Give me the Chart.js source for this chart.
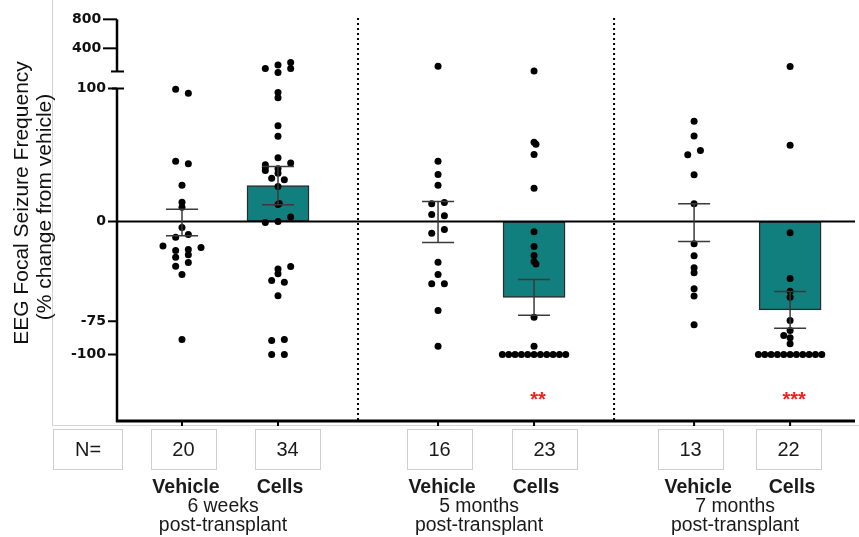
<!DOCTYPE html>
<html>
<head>
<meta charset="utf-8">
<script src="https://cdn.jsdelivr.net/npm/chart.js@4.4.1/dist/chart.umd.min.js"></script>
<style>
  html, body { margin: 0; padding: 0; background: #fff; }
  #wrap { width: 859px; height: 537px; }
</style>
</head>
<body>
<div id="wrap"><canvas id="chart" width="859" height="537"></canvas></div>
<script>
// groups, left to right
const treatments = ['Vehicle', 'Cells', 'Vehicle', 'Cells', 'Vehicle', 'Cells'];
const timepoints = ['6 weeks', '5 months', '7 months'];
const nCounts = [20, 34, 16, 23, 13, 22];
const means = [-0.8, 27, -0.4, -57, -0.9, -66.4];
const sems = [10, 14.4, 15.4, 13.4, 14.2, 13.8];
const stars = ['', '', '', '**', '', '***'];
const yTickLabels = [-100, -75, 0, 100, 400, 800];

// single animals, % change from vehicle
const vehicle6w = [99.5, 96.5, 45.3, 43.4, 27.3, 14.5, 10.8, -4.5, -11.8, -9.8,
  -18.5, -19.5, -21.8, -21, -26.8, -25, -33.6, -30.8, -39.8, -88.7];
const cells6w = [247, 268, 225, 285, 247, 97, 93, 72, 64, 48, 42.6, 40.8, 44, 38.3,
  39.6, 36.3, 32.6, 31.3, 26.3, 12.8, 13.5, 3.3, -0.8, 0, -35.8, -33.8, -39.3,
  -44.4, -45.6, -55.9, -89.5, -88.7, -100, -100];
const vehicle5m = [260, 45.3, 35.3, 27.3, 13.3, 14.3, 5.3, 4.3, -8.8, -6, -30.6,
  -39.8, -46.8, -46.8, -66.9, -93.8];
const cells5m = [232, 59.5, 58, 50.4, 25, -7.8, -18.8, -25.6, -30, -32, -72, -93.8,
  -100, -100, -100, -100, -100, -100, -100, -100, -100, -100, -100];
const vehicle7m = [75.4, 64.2, 50.1, 53.4, 35.1, 13.3, -16.8, -25.8, -34.8, -38.6,
  -50.6, -56.1, -77.7];
const cells7m = [259, 57.4, -8.5, -42.9, -52.4, -56.9, -74.4, -82, -85.7, -87.4, -92,
  -100, -100, -100, -100, -100, -100, -100, -100, -100, -100, -100];
const groupPoints = [vehicle6w, cells6w, vehicle5m, cells5m, vehicle7m, cells7m];

// horizontal scatter slots (how GraphPad spread the dots)
const jitter = [
  [-1, 1, -1, 1, 0, 0, 0, 0, -1, 1, -3, 3, -1, 1, -1, 1, -1, 1, 0, 0],
  [-2, 0, 0, 2, 2, 0, 0, 0, 0, 0, -2, -2, 2, -2, 0, 0, -1, 1, 0, 0, 0.2, 2, -2, 0,
    0, 2, 0, -1, 1, 0, -1, 1, -1, 1],
  [0, 0, 0, 0, -1, 1, -1, 1, -1, 1, 0, 0, -1, 1, 0, 0],
  [0, 0, 0.3, 0, 0, 0, 0, 0, 0, 0.3, 0, 0, -5, -4, -3, -2, -1, 0, 1, 2, 3, 4, 5],
  [0, 0, -1, 1, 0, 0, 0, 0, 0, 0, 0, 0, 0],
  [0, 0, 0, 0, 0, 0, 0, 0, -1, 0, 0, -5, -4, -3, -2, -1, 0, 1, 2, 3, 4, 5]
];

const TEAL = '#107f7e';
const SLOT = 0.066;           // one jitter slot, in x units
const GROUP_STEP = 2.667;     // distance between time points, in x units
const CAP_VALUE = 230;        // lowest value of the upper (broken) segment
const CAP_T = 112.8;          // where that segment starts on the axis
const DECADE_T = 72.4;        // axis units per decade in the upper segment
const boxShift = [1.5, 9.5, 1.5, 10.5, -3.5, -1.5];

function centerOf(i) {
  return Math.floor(i / 2) * GROUP_STEP + (i % 2);
}
// split axis: linear up to 100, log-compressed above the break
function toAxis(v) {
  return v <= 100 ? v : CAP_T + Math.log10(v / CAP_VALUE) * DECADE_T;
}

const scatterSets = groupPoints.map((vals, i) => ({
  type: 'scatter',
  order: 1,
  data: vals.map((v, k) => ({ x: centerOf(i) + jitter[i][k] * SLOT, y: toAxis(v) })),
  pointRadius: 3.5,
  pointBackgroundColor: '#000',
  pointBorderWidth: 0
}));

const barSet = {
  type: 'bar',
  order: 2,
  data: means.map((m, i) => ({ x: centerOf(i), y: m })),
  backgroundColor: treatments.map(t => t === 'Cells' ? TEAL : 'rgba(0,0,0,0)'),
  borderColor: treatments.map(t => t === 'Cells' ? '#2b2b2b' : 'rgba(0,0,0,0)'),
  borderWidth: 1.5,
  borderSkipped: false,
  barThickness: 62
};

function line(ctx, x1, y1, x2, y2) {
  ctx.beginPath();
  ctx.moveTo(x1, y1);
  ctx.lineTo(x2, y2);
  ctx.stroke();
}
function squeezed(ctx, text, x, y, font, sx) {
  ctx.save();
  ctx.translate(x, y);
  ctx.scale(sx, 1);
  ctx.font = font;
  ctx.textAlign = 'center';
  ctx.textBaseline = 'alphabetic';
  ctx.fillText(text, 0, 0);
  ctx.restore();
}

const decor = {
  id: 'decor',
  beforeDraw(chart) {
    const ctx = chart.ctx;
    ctx.save();
    ctx.strokeStyle = '#d4d4d4';
    ctx.lineWidth = 1;
    line(ctx, 52.5, 0, 52.5, 425.5);
    line(ctx, 52, 425.5, 859, 425.5);
    ctx.restore();
  },
  afterDatasetsDraw(chart) {
    const { ctx, chartArea: ca, scales: { x, y } } = chart;
    const left = ca.left;
    ctx.save();
    ctx.strokeStyle = '#000';
    ctx.fillStyle = '#000';

    // zero line
    ctx.lineWidth = 2;
    line(ctx, left, y.getPixelForValue(0), ca.right, y.getPixelForValue(0));

    // dotted dividers between time points
    ctx.setLineDash([2, 3]);
    ctx.lineWidth = 2;
    for (let g = 0; g < 2; g++) {
      const px = x.getPixelForValue((centerOf(g * 2 + 1) + centerOf(g * 2 + 2)) / 2);
      line(ctx, px, ca.top, px, ca.bottom);
    }
    ctx.setLineDash([]);

    // mean +/- SEM
    ctx.strokeStyle = '#3a3a3a';
    ctx.lineWidth = 1.5;
    means.forEach((m, i) => {
      const cx = x.getPixelForValue(centerOf(i));
      const hi = y.getPixelForValue(m + sems[i]);
      const lo = y.getPixelForValue(m - sems[i]);
      line(ctx, cx, hi, cx, lo);
      line(ctx, cx - 16, hi, cx + 16, hi);
      line(ctx, cx - 16, lo, cx + 16, lo);
    });

    // broken y axis
    ctx.strokeStyle = '#000';
    ctx.lineWidth = 2.5;
    const y100 = y.getPixelForValue(100);
    line(ctx, left, y100, left, ca.bottom + 1);
    const yTop = y.getPixelForValue(toAxis(800));
    const yCap = y.getPixelForValue(CAP_T);
    line(ctx, left, yTop, left, yCap);
    ctx.lineWidth = 2;
    line(ctx, left - 6, yCap, left + 7, yCap);
    line(ctx, left - 5, y100, left + 7, y100);
    yTickLabels.forEach(v => {
      const py = y.getPixelForValue(toAxis(v));
      line(ctx, left - (v > 100 ? 14 : 9), py, left, py);
    });

    // bottom axis
    ctx.lineWidth = 3;
    line(ctx, left - 1, ca.bottom, ca.right, ca.bottom);
    ctx.lineWidth = 2;
    means.forEach((m, i) => {
      const cx = x.getPixelForValue(centerOf(i));
      line(ctx, cx, ca.bottom, cx, ca.bottom + 5);
    });

    // significance
    ctx.fillStyle = '#ff1a1a';
    ctx.font = 'bold 20px "Liberation Sans", Arial, sans-serif';
    ctx.textAlign = 'center';
    stars.forEach((s, i) => {
      if (s) ctx.fillText(s, x.getPixelForValue(centerOf(i)) + 4, 406);
    });

    // N= boxes
    ctx.strokeStyle = '#cfcfcf';
    ctx.lineWidth = 1;
    ctx.fillStyle = '#1a1a1a';
    ctx.font = '20px "Liberation Sans", Arial, sans-serif';
    ctx.textBaseline = 'middle';
    ctx.strokeRect(53.5, 429.5, 69, 40);
    ctx.fillText('N=', 88, 450);
    nCounts.forEach((n, i) => {
      const cx = x.getPixelForValue(centerOf(i)) + boxShift[i];
      ctx.strokeRect(Math.round(cx - 32.5) + 0.5, 429.5, 65, 40);
      ctx.fillText(String(n), cx, 450);
    });

    // group labels
    treatments.forEach((t, i) => {
      squeezed(ctx, t, x.getPixelForValue(centerOf(i)) + (i % 2 ? 2 : 4), 493,
        'bold 21px "Liberation Sans", Arial, sans-serif', 0.93);
    });
    timepoints.forEach((t, g) => {
      const cx = x.getPixelForValue((centerOf(g * 2) + centerOf(g * 2 + 1)) / 2) - 7;
      squeezed(ctx, t, cx, 512, '20px "Liberation Sans", Arial, sans-serif', 0.97);
      squeezed(ctx, 'post-transplant', cx, 531, '20px "Liberation Sans", Arial, sans-serif', 0.97);
    });

    // y title
    ctx.save();
    ctx.translate(22, 203);
    ctx.rotate(-Math.PI / 2);
    ctx.font = '21px "Liberation Sans", Arial, sans-serif';
    ctx.fillStyle = '#111';
    ctx.textAlign = 'center';
    ctx.textBaseline = 'middle';
    ctx.fillText('EEG Focal Seizure Frequency', 0, 0);
    ctx.fillText('(% change from vehicle)', -4, 23);
    ctx.restore();

    ctx.restore();
  }
};

new Chart(document.getElementById('chart'), {
  type: 'bar',
  data: { datasets: [barSet, ...scatterSets] },
  options: {
    responsive: false,
    devicePixelRatio: 1,
    animation: false,
    layout: { padding: { left: 0, top: 18, right: 4, bottom: 116 } },
    plugins: { legend: { display: false }, tooltip: { enabled: false } },
    scales: {
      x: {
        type: 'linear',
        display: false,
        min: -0.677,
        max: 7.01,
        offset: false
      },
      y: {
        min: -150,
        max: 153,
        afterFit: s => { s.width = 117; },
        afterBuildTicks: s => { s.ticks = yTickLabels.map(v => ({ value: toAxis(v) })); },
        border: { display: false },
        grid: { display: false, drawTicks: true, tickLength: 9 },
        ticks: {
          padding: 2,
          color: '#111',
          font: { family: 'DejaVu Sans', weight: 'bold', size: 14 },
          callback: (value, index) => yTickLabels[index] > 100 ? yTickLabels[index] + ' ' : String(yTickLabels[index])
        }
      }
    }
  },
  plugins: [decor]
});
</script>
</body>
</html>
